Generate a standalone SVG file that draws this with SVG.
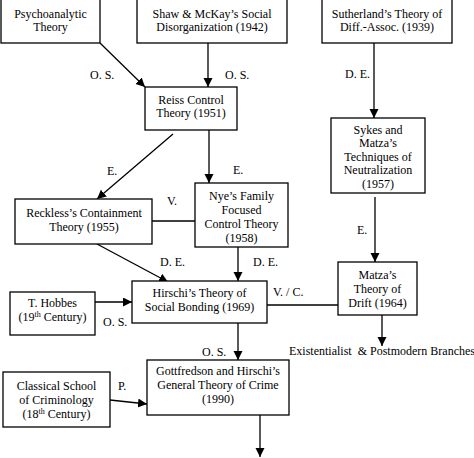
<svg xmlns="http://www.w3.org/2000/svg" width="474" height="458" viewBox="0 0 474 458">
<defs>
<style>
.box{fill:#fff;stroke:#000;stroke-width:1.3}
.t{font-family:"Liberation Serif","Times New Roman",serif;font-size:12px;fill:#000;text-anchor:middle}
.l{font-family:"Liberation Serif","Times New Roman",serif;font-size:12px;fill:#000}
.e{stroke:#000;stroke-width:1.3;fill:none}
.a{marker-end:url(#arr)}
</style>
<marker id="arr" markerUnits="userSpaceOnUse" markerWidth="10" markerHeight="10" refX="9" refY="4.5" orient="auto">
<path d="M0,0 L9,4.5 L0,9 z" fill="#000"/>
</marker>
</defs>
<rect width="474" height="458" fill="#fff"/>
<g id="connectors">
<line class="e a" x1="100" y1="43" x2="145" y2="87"/>
<line class="e a" x1="208" y1="43" x2="208" y2="87"/>
<line class="e a" x1="374" y1="43" x2="374" y2="118"/>
<line class="e a" x1="173" y1="134" x2="97" y2="199"/>
<line class="e a" x1="209" y1="130" x2="209" y2="183"/>
<line class="e" x1="152" y1="221" x2="195" y2="221"/>
<line class="e a" x1="375" y1="197" x2="375" y2="262"/>
<line class="e a" x1="97" y1="244" x2="168" y2="282"/>
<line class="e a" x1="238" y1="247" x2="238" y2="281"/>
<line class="e a" x1="95" y1="302" x2="132" y2="302"/>
<line class="e" x1="267" y1="305" x2="338" y2="305"/>
<line class="e a" x1="382" y1="315" x2="382" y2="346"/>
<line class="e a" x1="238" y1="323" x2="238" y2="360"/>
<line class="e a" x1="110" y1="400" x2="147" y2="404"/>
<line class="e a" x1="260" y1="415" x2="260" y2="457"/>
<text class="l" x="90" y="79">O. S.</text>
<text class="l" x="225" y="79">O. S.</text>
<text class="l" x="345" y="78">D. E.</text>
<text class="l" x="107" y="175">E.</text>
<text class="l" x="233" y="174">E.</text>
<text class="l" x="167" y="205">V.</text>
<text class="l" x="357" y="234">E.</text>
<text class="l" x="160" y="266">D. E.</text>
<text class="l" x="253" y="266">D. E.</text>
<text class="l" x="273" y="296">V. / C.</text>
<text class="l" x="103" y="326">O. S.</text>
<text class="l" x="202" y="356">O. S.</text>
<text class="l" x="118" y="390">P.</text>
</g>
<g id="n-psycho">
<rect class="box" x="1" y="-1" width="99" height="44"/>
<text class="t" x="50.5" y="18">Psychoanalytic</text>
<text class="t" x="50.5" y="31">Theory</text>
</g>
<g id="n-shaw">
<rect class="box" x="137" y="-1" width="150" height="44"/>
<text class="t" x="212" y="18">Shaw &amp; McKay’s Social</text>
<text class="t" x="212" y="31">Disorganization (1942)</text>
</g>
<g id="n-sutherland">
<rect class="box" x="322" y="-1" width="130" height="44"/>
<text class="t" x="387" y="18">Sutherland’s Theory of</text>
<text class="t" x="387" y="31">Diff.-Assoc. (1939)</text>
</g>
<g id="n-reiss">
<rect class="box" x="145" y="87" width="92" height="43"/>
<text class="t" x="191" y="104">Reiss Control</text>
<text class="t" x="191" y="117">Theory (1951)</text>
</g>
<g id="n-sykes">
<rect class="box" x="331" y="118" width="94" height="75"/>
<text class="t" x="378" y="133.5">Sykes and</text>
<text class="t" x="378" y="147">Matza’s</text>
<text class="t" x="378" y="160.5">Techniques of</text>
<text class="t" x="378" y="174">Neutralization</text>
<text class="t" x="378" y="187.5">(1957)</text>
</g>
<g id="n-reckless">
<rect class="box" x="15" y="199" width="137" height="45"/>
<text class="t" x="84" y="217">Reckless’s Containment</text>
<text class="t" x="84" y="231">Theory (1955)</text>
</g>
<g id="n-nye">
<rect class="box" x="195" y="183" width="93" height="64"/>
<text class="t" x="241.5" y="200">Nye’s Family</text>
<text class="t" x="241.5" y="214">Focused</text>
<text class="t" x="241.5" y="228">Control Theory</text>
<text class="t" x="241.5" y="242">(1958)</text>
</g>
<g id="n-hirschi">
<rect class="box" x="132" y="281" width="135" height="42"/>
<text class="t" x="199.5" y="297">Hirschi’s Theory of</text>
<text class="t" x="199.5" y="311">Social Bonding (1969)</text>
</g>
<g id="n-hobbes">
<rect class="box" x="10" y="292" width="85" height="43"/>
<text class="t" x="52.5" y="307">T. Hobbes</text>
<text class="t" x="52.5" y="321">(19<tspan font-size="8" dy="-4">th</tspan><tspan dy="4"> Century)</tspan></text>
</g>
<g id="n-matza">
<rect class="box" x="338" y="262" width="79" height="53"/>
<text class="t" x="377.5" y="278.5">Matza’s</text>
<text class="t" x="377.5" y="292.5">Theory of</text>
<text class="t" x="377.5" y="306.5">Drift (1964)</text>
</g>
<g id="n-branches">
<text class="l" x="289" y="355" font-size="11.5" xml:space="preserve">Existentialist  &amp; Postmodern Branches</text>
</g>
<g id="n-gott">
<rect class="box" x="147" y="360" width="142" height="55"/>
<text class="t" x="218" y="375">Gottfredson and Hirschi’s</text>
<text class="t" x="218" y="389">General Theory of Crime</text>
<text class="t" x="218" y="403">(1990)</text>
</g>
<g id="n-classical">
<rect class="box" x="3" y="372" width="107" height="55"/>
<text class="t" x="56.5" y="390">Classical School</text>
<text class="t" x="56.5" y="404">of Criminology</text>
<text class="t" x="56.5" y="418">(18<tspan font-size="8" dy="-4">th</tspan><tspan dy="4"> Century)</tspan></text>
</g>
</svg>
